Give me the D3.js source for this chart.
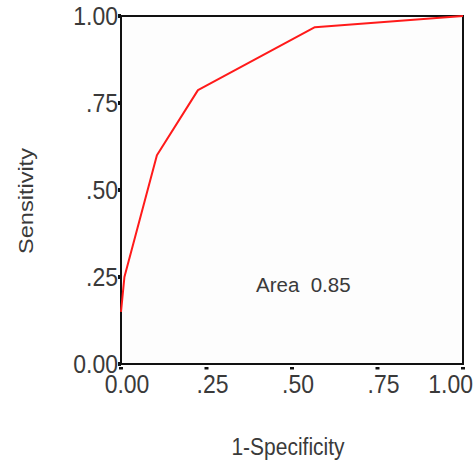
<!DOCTYPE html>
<html>
<head>
<meta charset="utf-8">
<script src="https://cdn.jsdelivr.net/npm/d3@7"></script>
<style>
html,body{margin:0;padding:0;background:#fff;}
text{font-family:"Liberation Sans",Arial,Helvetica,sans-serif;fill:#3a3a3a;white-space:pre;}
</style>
</head>
<body>
<svg id="chart" width="476" height="465"></svg>
<script>
// ROC curve points (1-Specificity, Sensitivity)
const fpr = [0.00, 0.01, 0.105, 0.225, 0.567, 1.00];
const tpr = [0.15, 0.25, 0.60, 0.787, 0.968, 1.00];
const tickValues = [0, 0.25, 0.5, 0.75, 1];
const tickLabels = ["0.00", ".25", ".50", ".75", "1.00"];
const areaLabel = "Area  0.85";
const xTitle = "1-Specificity";
const yTitle = "Sensitivity";

const svg = d3.select("#chart");
const L = 121, R = 463, T = 16, B = 364;
const x = d3.scaleLinear().domain([0, 1]).range([L, R]);
const y = d3.scaleLinear().domain([0, 1]).range([B, T]);
const SY = 1.12;

function label(px, py, txt, size, anchor, rot) {
  const t = svg.append("text")
    .attr("transform", `translate(${px},${py})` + (rot ? ` rotate(${rot})` : "") + (rot ? ` scale(${SY},1)` : ` scale(1,${SY})`))
    .attr("text-anchor", anchor).attr("font-size", size).text(txt);
  return t;
}

// frame
svg.append("rect").attr("x", L).attr("y", T).attr("width", R - L).attr("height", B - T)
  .attr("fill", "#fdfdfd").attr("stroke", "#111").attr("stroke-width", 2);

// ROC line
const pts = fpr.map((v, i) => [v, tpr[i]]);
svg.append("path").datum(pts)
  .attr("d", d3.line().x(d => x(d[0])).y(d => y(d[1])))
  .attr("fill", "none").attr("stroke", "#ff1a1a").attr("stroke-width", 2)
  .attr("stroke-linejoin", "round");

// y ticks
tickValues.forEach((v, i) => {
  svg.append("rect").attr("x", x(0) - 3).attr("y", y(v) - 2).attr("width", 3).attr("height", 4).attr("fill", "#111");
  label(x(0) - 3, y(v) + 9, tickLabels[i], 23, "end");
});

// x ticks
tickValues.forEach((v, i) => {
  svg.append("rect").attr("x", x(v) - 2).attr("y", y(0) + 3).attr("width", 4).attr("height", 2.5).attr("fill", "#111");
  let px = x(v) + 6, anchor = "middle";
  if (i === tickValues.length - 1) { px = 473; anchor = "end"; }
  label(px, y(0) + 29, tickLabels[i], 23, anchor);
});

// axis titles
label(288, 455, xTitle, 21, "middle");
label(33, 201, yTitle, 21, "middle", -90);

// area annotation
svg.append("text").attr("x", 256).attr("y", 292).attr("font-size", 20.5)
  .attr("fill", "#222").attr("transform", "").text(areaLabel);
</script>
</body>
</html>
